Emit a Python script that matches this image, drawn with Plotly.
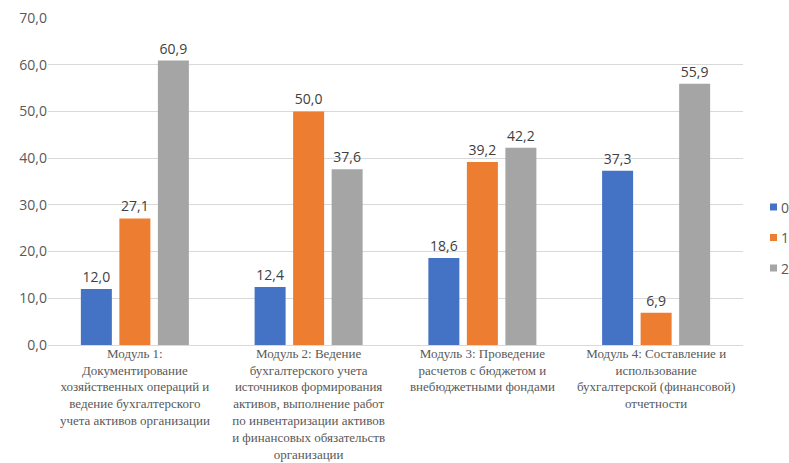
import plotly.graph_objects as go

# Modules (category axis) and the share for each group 0/1/2
modules = [
    "Модуль 1:<br>Документирование<br>хозяйственных операций и<br>ведение бухгалтерского<br>учета активов организации",
    "Модуль 2: Ведение<br>бухгалтерского учета<br>источников формирования<br>активов, выполнение работ<br>по инвентаризации активов<br>и финансовых обязательств<br>организации",
    "Модуль 3: Проведение<br>расчетов с бюджетом и<br>внебюджетными фондами",
    "Модуль 4: Составление и<br>использование<br>бухгалтерской (финансовой)<br>отчетности",
]
series_names = ["0", "1", "2"]
values_0 = [12.0, 12.4, 18.6, 37.3]
values_1 = [27.1, 50.0, 39.2, 6.9]
values_2 = [60.9, 37.6, 42.2, 55.9]
y_ticks = [0, 10, 20, 30, 40, 50, 60, 70]

colors = ["#4472C4", "#ED7D31", "#A5A5A5"]
all_values = [values_0, values_1, values_2]

SANS = "Open Sans, Liberation Sans, sans-serif"
SERIF = "Liberation Serif, Times New Roman, serif"

W, H = 789, 463
M_L, M_R, M_T, M_B = 48, 46, 18, 118

fig = go.Figure()
for i, (name, vals) in enumerate(zip(series_names, all_values)):
    fig.add_trace(go.Bar(
        x=list(range(len(modules))),
        y=vals,
        name=name,
        showlegend=False,
        marker=dict(color=colors[i], line=dict(width=0)),
        text=vals,
        texttemplate="%{y:.1f}",
        textposition="outside",
        cliponaxis=False,
        textfont=dict(family=SANS, size=14, color="#404040"),
    ))

# Compact legend on the right: small colour squares with the series names
plot_w = W - M_L - M_R
plot_h = H - M_T - M_B
sq = 7
legend_x = 770          # left edge of squares, px
legend_y0 = 207         # centre of first entry, px
legend_step = 30.5
for i, name in enumerate(series_names):
    cy = legend_y0 + i * legend_step
    x0 = (legend_x - M_L) / plot_w
    x1 = (legend_x + sq - M_L) / plot_w
    y0 = (H - M_B - (cy + sq / 2)) / plot_h
    y1 = (H - M_B - (cy - sq / 2)) / plot_h
    fig.add_shape(type="rect", xref="paper", yref="paper",
                  x0=x0, x1=x1, y0=y0, y1=y1,
                  fillcolor=colors[i], line=dict(width=0))
    fig.add_annotation(xref="paper", yref="paper",
                       x=(legend_x + sq + 2 - M_L) / plot_w,
                       y=(H - M_B - cy) / plot_h,
                       xanchor="left", yanchor="middle",
                       text=name, showarrow=False,
                       font=dict(family=SANS, size=14, color="#595959"))

fig.update_layout(
    width=W,
    height=H,
    margin=dict(l=M_L, r=M_R, t=M_T, b=M_B),
    paper_bgcolor="white",
    plot_bgcolor="white",
    separators=", ",
    barmode="group",
    bargap=0.335,
    bargroupgap=0.195,
    showlegend=False,
    xaxis=dict(
        tickmode="array",
        tickvals=list(range(len(modules))),
        ticktext=modules,
        tickfont=dict(family=SERIF, size=13, color="#595959"),
        ticklabelstandoff=-4,
        automargin=False,
        showgrid=False,
        showline=True,
        linecolor="#d9d9d9",
        ticks="",
        range=[-0.5, len(modules) - 0.5],
    ),
    yaxis=dict(
        range=[0, 70],
        tickvals=y_ticks,
        tickformat=".1f",
        tickfont=dict(family=SANS, size=14, color="#595959"),
        automargin=False,
        showgrid=True,
        gridcolor="#d9d9d9",
        zeroline=False,
        ticks="",
    ),
)

fig.write_html("out.html")
